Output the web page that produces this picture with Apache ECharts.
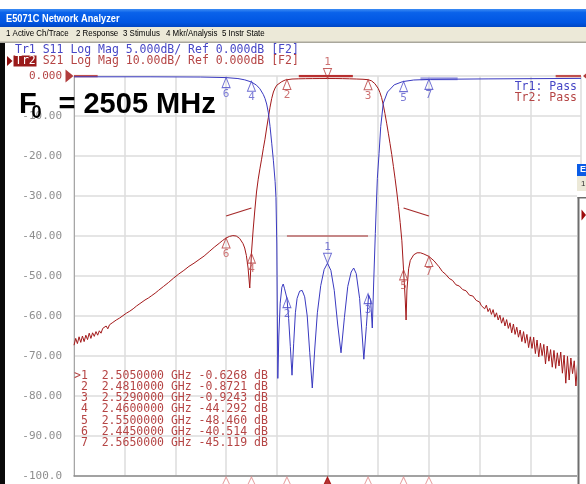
<!DOCTYPE html>
<html><head><meta charset="utf-8">
<script src="https://cdn.jsdelivr.net/npm/echarts@6/dist/echarts.min.js"></script>
<style>html,body{margin:0;padding:0;background:#fff;overflow:hidden}#c{width:586px;height:484px}</style>
</head><body><div id="c"></div>
<script>
// ---------- data ----------
const CENTER_MHZ = 2505;
const HALF_SPAN_MHZ = 150;
const DIV_MHZ = 30;
const TR2_SCALE = { min: -100, max: 0, step: 10 };   // S21 10 dB/div
const TR1_SCALE = { min: -50, max: 0, step: 5 };     // S11 5 dB/div

// S21 trace [MHz, dB]
const S21_POINTS = [
 [2355,-67.3],[2356,-65.6],[2357,-66.9],[2358,-65.2],[2359,-66.6],[2360,-65.0],[2361,-66.4],[2362,-64.8],
 [2363,-65.9],[2364,-64.3],[2365,-65.6],[2366,-64.2],[2367,-65.1],[2368,-63.9],[2369,-64.8],[2370,-63.7],
 [2371,-64.3],[2372,-63.1],[2373,-63.6],[2374,-62.5],[2375,-63.2],[2376,-62.2],[2377,-62.5],[2378,-61.6],
 [2379,-61.9],[2380,-61.0],[2381,-61.3],[2382,-60.5],[2383,-60.6],[2384,-59.9],[2385,-60.0],[2386,-59.3],
 [2387,-59.4],[2388,-58.8],[2389,-58.8],[2390,-58.2],[2391,-58.1],[2392,-57.5],[2393,-57.4],[2394,-56.9],
 [2395,-56.8],[2397,-56.0],[2399,-55.5],[2401,-54.9],[2403,-54.3],[2405,-53.6],[2408,-52.6],[2411,-51.6],
 [2414,-50.5],[2417,-49.5],[2420,-48.6],[2423,-47.6],[2426,-46.8],[2429,-45.9],[2432,-45.0],[2435,-43.9],
 [2438,-42.8],[2441,-41.8],[2443,-41.1],[2445,-40.5],[2447,-40.1],[2449,-39.9],[2451,-40.0],[2453,-40.6],
 [2455,-41.9],[2456,-43.0],[2457,-44.9],[2458,-48.0],[2459,-53.0],[2459.5,-49.0],[2460,-44.3],[2461,-38.5],
 [2462,-33.5],[2463,-29.0],[2464,-25.8],[2465,-23.2],[2466,-20.8],[2467,-18.2],[2468,-15.8],[2469,-13.0],
 [2470,-10.4],[2471,-7.8],[2472,-5.6],[2473,-4.0],[2474,-3.0],[2475,-2.3],[2476,-1.9],[2478,-1.4],
 [2480,-1.0],[2481,-0.87],[2484,-0.76],[2488,-0.70],[2492,-0.67],[2496,-0.65],[2500,-0.64],[2505,-0.63],
 [2510,-0.64],[2514,-0.66],[2518,-0.70],[2522,-0.75],[2526,-0.82],[2529,-0.92],[2531,-1.2],[2532,-1.5],
 [2533,-1.9],[2534,-2.4],[2535,-3.1],[2536,-4.1],[2537,-5.4],[2538,-7.2],[2539,-9.4],[2540,-11.8],
 [2541,-14.3],[2542,-16.9],[2543,-19.6],[2544,-22.6],[2545,-25.7],[2546,-29.0],[2547,-32.6],[2548,-36.6],
 [2549,-41.2],[2550,-48.5],[2551,-56.0],[2551.5,-61.0],[2552,-53.5],[2553,-48.2],[2554,-46.1],[2556,-44.7],
 [2558,-44.2],[2560,-44.2],[2562,-44.5],[2565,-45.1],[2568,-46.2],[2571,-47.7],[2573,-48.9],[2575,-49.6],
 [2577,-50.6],[2579,-51.1],[2581,-52.2],[2583,-52.5],[2585,-53.4],[2587,-53.7],[2589,-54.8],[2591,-55.0],
 [2593,-56.1],[2595,-56.5],[2596,-57.4],[2597,-56.9],[2598,-58.2],[2599,-57.3],[2600,-58.9],[2601,-58.1],
 [2602,-59.6],[2603,-58.4],[2604,-60.3],[2605,-59.2],[2606,-61.0],[2607,-59.8],[2608,-61.8],[2609,-60.4],
 [2610,-62.5],[2611,-60.9],[2612,-63.1],[2613,-61.7],[2614,-64.2],[2615,-62.0],[2616,-64.6],[2617,-62.8],
 [2618,-65.3],[2619,-63.5],[2620,-66.4],[2621,-63.9],[2622,-66.8],[2623,-64.6],[2624,-67.9],[2625,-65.2],
 [2626,-68.1],[2627,-65.3],[2628,-69.4],[2629,-66.0],[2630,-70.2],[2631,-66.8],[2632,-69.9],[2633,-67.1],
 [2634,-72.0],[2635,-67.5],[2636,-71.3],[2637,-68.4],[2638,-72.8],[2639,-68.6],[2640,-73.1],[2641,-69.2],
 [2642,-72.5],[2643,-69.0],[2644,-74.3],[2645,-69.8],[2646,-76.8],[2647,-70.1],[2648,-76.0],[2649,-70.5],
 [2650,-74.4],[2651,-71.2],[2652,-77.5],[2653,-71.6],[2654,-73.8],[2655,-80.0]
];

// S11 trace [MHz, dB]
const S11_POINTS = [
 [2355,-0.10],[2400,-0.10],[2430,-0.13],[2445,-0.20],[2452,-0.32],[2456,-0.48],[2460,-0.75],[2463,-1.15],
 [2465,-1.6],[2467,-2.3],[2468,-2.8],[2469,-3.5],[2470,-4.6],[2471,-6.3],[2472,-8.4],[2473,-10.6],
 [2474,-13.2],[2474.5,-15.2],[2475,-21.0],[2475.6,-37.8],[2476.2,-32.5],[2477,-28.4],[2478,-26.4],[2478.8,-26.0],
 [2479.6,-26.6],[2481,-27.8],[2482,-30.3],[2483,-33.8],[2484,-37.4],[2485,-33.4],[2486,-29.6],[2487,-27.8],
 [2488.5,-26.9],[2490,-26.8],[2491.5,-27.6],[2493,-30.0],[2494.5,-34.6],[2496,-39.0],[2497.5,-34.0],[2499,-29.6],
 [2501,-26.2],[2503,-24.2],[2505,-23.4],[2507,-24.3],[2509,-26.8],[2511,-31.0],[2513,-34.6],[2515,-30.2],
 [2517,-26.3],[2519,-24.5],[2520.5,-24.0],[2522,-24.7],[2524,-27.8],[2526.5,-35.4],[2528,-31.3],[2529.3,-27.4],
 [2530.5,-28.0],[2531.5,-31.5],[2532.3,-26.0],[2533.3,-19.7],[2534,-15.5],[2534.5,-12.8],[2535.5,-9.7],[2536.5,-6.3],
 [2538,-3.4],[2540.5,-2.0],[2544.5,-1.1],[2549.5,-0.7],[2556,-0.5],[2566,-0.42],[2600,-0.36],[2655,-0.30]
];

// markers
const ACTIVE_MARKER = 1;
const MARKER_NUM = [1, 2, 3, 4, 5, 6, 7];
const MARKER_GHZ = [2.505, 2.481, 2.529, 2.460, 2.550, 2.445, 2.565];
const MARKER_S21_DB = [-0.6268, -0.8721, -0.9243, -44.292, -48.460, -40.514, -45.119];
const MARKER_S11_DB = [-23.4, -27.7, -27.2, -0.65, -0.7, -0.2, -0.42];

// limit lines
const LIMIT_S21_LEFT = [[2445, -35], [2460, -33]];
const LIMIT_S21_RIGHT = [[2550, -33], [2565, -35]];
const LIMIT_S11_PASS = [[2481, -20], [2529, -20]];
const LIMIT_S21_TOP_A = [[2355, 0], [2369, 0]];
const LIMIT_S21_TOP_B = [[2488, 0], [2520, 0]];
const LIMIT_S21_TOP_C = [[2640, 0], [2655, 0]];
const LIMIT_S11_TOP = [[2560, -0.35], [2582, -0.35]];

// texts
const TITLE = 'E5071C Network Analyzer';
const MENU = [['1 Active Ch/Trace', 6], ['2 Response', 76], ['3 Stimulus', 123], ['4 Mkr/Analysis', 166], ['5 Instr State', 222]];
const TR1_HEADER = 'Tr1 S11 Log Mag 5.000dB/ Ref 0.000dB [F2]';
const TR2_HEADER = ' S21 Log Mag 10.00dB/ Ref 0.000dB [F2]';

// ---------- chart ----------
const MONO = '"DejaVu Sans Mono", monospace';
const SANS = '"Liberation Sans", Arial, sans-serif';
const RED = '#A3191A', BLUE = '#3A3AC0', RED_TXT = '#B54545', BLUE_TXT = '#4747C6';
const CW = 6.92; // mono char width at 11.5px

const X = f => f - CENTER_MHZ;
const toXY = pts => pts.map(p => [X(p[0]), p[1]]);

function lineSeries(yIdx, pts, color, width, z) {
  return { type: 'line', yAxisIndex: yIdx, data: toXY(pts), symbol: 'none', showSymbol: false,
    lineStyle: { color, width }, z: z || 2, silent: true, animation: false };
}
const TRI_UP = 'path://M5,0 L10,12 L0,12 Z';
const TRI_DOWN = 'path://M0,0 L10,0 L5,12 Z';
function markerSeries(yIdx, vals, color, lblColor, active) {
  const data = [];
  MARKER_NUM.forEach((n, i) => {
    if ((n === ACTIVE_MARKER) === active) data.push({ name: String(n), value: [X(MARKER_GHZ[i] * 1000), vals[i]] });
  });
  return { type: 'scatter', yAxisIndex: yIdx, data, symbol: active ? TRI_DOWN : TRI_UP,
    symbolSize: [8, 10], symbolOffset: [0, active ? -5 : 5], clip: false,
    itemStyle: { color: 'rgba(255,255,255,0)', borderColor: color, borderWidth: 1 },
    label: { show: true, formatter: '{b}', position: active ? 'top' : 'bottom', distance: 0,
      color: lblColor, fontFamily: MONO, fontSize: 11 },
    z: 6, silent: true, animation: false };
}
function bottomMarkers() {
  return { type: 'scatter', yAxisIndex: 0, clip: false, symbol: 'triangle', symbolSize: [15, 16], symbolOffset: [0, 9],
    data: MARKER_NUM.map((n, i) => ({ value: [X(MARKER_GHZ[i] * 1000), TR2_SCALE.min],
      itemStyle: n === ACTIVE_MARKER ? { color: '#A00000', borderColor: '#A00000', borderWidth: 1 }
                                     : { color: 'rgba(255,255,255,0)', borderColor: '#E08A8A', borderWidth: 1 } })),
    z: 6, silent: true, animation: false };
}
function refMarker(xMHz, sym, off) {
  return { type: 'scatter', yAxisIndex: 0, clip: false, symbol: sym, symbolSize: [8, 13], symbolOffset: [off, 0],
    data: [[X(xMHz), 0]], itemStyle: { color: '#9E0B0B' }, z: 7, silent: true, animation: false };
}

const fmtVal = v => (Math.abs(v) < 10 ? v.toFixed(4) : v.toFixed(3)).padStart(7, ' ');
const tableRows = MARKER_NUM.map((n, i) => ({
  type: 'text', x: 74, y: 376 + i * 11.15,
  style: { text: (n === ACTIVE_MARKER ? '>' : ' ') + n + '  ' + MARKER_GHZ[i].toFixed(7) + ' GHz ' + fmtVal(MARKER_S21_DB[i]) + ' dB',
    fill: RED_TXT, font: '11.5px ' + MONO, verticalAlign: 'middle' }, z: 20 }));

const graphic = [
  { type: 'rect', shape: { x: 0, y: 9, width: 586, height: 18 }, style: { fill: { type: 'linear', x: 0, y: 0, x2: 0, y2: 1,
      colorStops: [{ offset: 0, color: '#3C8CF4' }, { offset: 0.2, color: '#0A62EA' }, { offset: 0.75, color: '#0055E2' }, { offset: 1, color: '#0046C4' }] } }, z: 10 },
  { type: 'text', x: 6, y: 18.5, scaleX: 0.84, style: { text: TITLE, fill: '#fff', font: 'bold 11px ' + SANS, verticalAlign: 'middle' }, z: 11 },
  { type: 'rect', shape: { x: 0, y: 27, width: 586, height: 15 }, style: { fill: '#ECE9D8' }, z: 10 },
  { type: 'rect', shape: { x: 0, y: 41.5, width: 586, height: 1.5 }, style: { fill: '#A9A79C' }, z: 10 },
  ...MENU.map(m => ({ type: 'text', x: m[1], y: 34, scaleX: 0.88, style: { text: m[0], fill: '#000', font: '9px ' + SANS, verticalAlign: 'middle' }, z: 11 })),
  { type: 'rect', shape: { x: 0, y: 43, width: 5, height: 441 }, style: { fill: '#0A0A0A' }, z: 10 },
  // trace headers
  { type: 'text', x: 15, y: 50, style: { text: TR1_HEADER, fill: BLUE_TXT, font: '11.5px ' + MONO, verticalAlign: 'middle' }, z: 20 },
  { type: 'polygon', shape: { points: [[7, 56], [12.5, 61], [7, 66]] }, style: { fill: '#8E0E0E' }, z: 20 },
  { type: 'rect', shape: { x: 13.5, y: 55.5, width: 23, height: 11 }, style: { fill: '#9A1A1A' }, z: 19 },
  { type: 'text', x: 15, y: 61, style: { text: 'Tr2', fill: '#fff', font: '11.5px ' + MONO, verticalAlign: 'middle' }, z: 20 },
  { type: 'text', x: 15 + 3 * CW, y: 61, style: { text: TR2_HEADER, fill: RED_TXT, font: '11.5px ' + MONO, verticalAlign: 'middle' }, z: 20 },
  // pass labels
  { type: 'text', x: 577, y: 87, style: { text: 'Tr1: Pass', fill: BLUE_TXT, font: '11.5px ' + MONO, align: 'right', verticalAlign: 'middle' }, z: 20 },
  { type: 'text', x: 577, y: 98, style: { text: 'Tr2: Pass', fill: RED_TXT, font: '11.5px ' + MONO, align: 'right', verticalAlign: 'middle' }, z: 20 },
  // F0 annotation
  { type: 'text', x: 19, y: 105, style: { text: 'F', fill: '#000', font: 'bold 29px ' + SANS, verticalAlign: 'middle' }, z: 21 },
  { type: 'text', x: 31.5, y: 113, style: { text: '0', fill: '#000', font: 'bold 18px ' + SANS, verticalAlign: 'middle' }, z: 21 },
  { type: 'text', x: 58.5, y: 105, style: { text: '= 2505 MHz', fill: '#000', font: 'bold 29px ' + SANS, verticalAlign: 'middle' }, z: 21 },
  ...tableRows,
  // neighbouring window fragment on the right
  { type: 'rect', shape: { x: 577, y: 164, width: 9, height: 12 }, style: { fill: '#0A5CE6' }, z: 22 },
  { type: 'text', x: 580, y: 170, style: { text: 'E', fill: '#fff', font: 'bold 9px ' + SANS, verticalAlign: 'middle' }, z: 23 },
  { type: 'rect', shape: { x: 577, y: 176, width: 9, height: 15 }, style: { fill: '#ECE9D8' }, z: 22 },
  { type: 'text', x: 581, y: 184, style: { text: '1', fill: '#333', font: '8px ' + SANS, verticalAlign: 'middle' }, z: 23 },
  { type: 'rect', shape: { x: 577, y: 191, width: 9, height: 293 }, style: { fill: '#fff' }, z: 22 },
  { type: 'rect', shape: { x: 577.5, y: 197, width: 2, height: 287 }, style: { fill: '#6E6E6E' }, z: 23 },
  { type: 'rect', shape: { x: 577.5, y: 197, width: 9, height: 1.5 }, style: { fill: '#6E6E6E' }, z: 23 },
  { type: 'polygon', shape: { points: [[581.5, 209.5], [586, 215], [581.5, 220.5]] }, style: { fill: '#9E0B0B' }, z: 23 }
];

const option = {
  backgroundColor: '#ffffff',
  animation: false,
  grid: { left: 74, top: 76, width: 507, height: 400, containLabel: false },
  xAxis: {
    type: 'value', min: -HALF_SPAN_MHZ, max: HALF_SPAN_MHZ, interval: DIV_MHZ,
    axisLabel: { show: false }, axisTick: { show: false },
    axisLine: { show: true, onZero: false, lineStyle: { color: '#8C8C8C', width: 1.5 } },
    splitLine: { show: true, lineStyle: { color: '#DCDCDC', width: 1.5 } }
  },
  yAxis: [
    { type: 'value', min: TR2_SCALE.min, max: TR2_SCALE.max, interval: TR2_SCALE.step, position: 'left',
      axisLine: { show: true, onZero: false, lineStyle: { color: '#A6A6A6', width: 1 } }, axisTick: { show: false },
      axisLabel: { margin: 12, fontFamily: MONO, fontSize: 11,
        color: v => (Number(v) === 0 ? RED_TXT : '#8E8E8E'),
        formatter: v => (v === 0 ? '0.000' : v === -100 ? '-100.0' : v.toFixed(2)) },
      splitLine: { show: true, lineStyle: { color: '#DCDCDC', width: 1.5 } } },
    { type: 'value', min: TR1_SCALE.min, max: TR1_SCALE.max, interval: TR1_SCALE.step, show: false,
      axisLine: { show: false, onZero: false }, splitLine: { show: false } }
  ],
  series: [
    lineSeries(0, LIMIT_S21_LEFT, '#A52A2A', 1.2, 3),
    lineSeries(0, LIMIT_S21_RIGHT, '#A52A2A', 1.2, 3),
    lineSeries(1, LIMIT_S11_PASS, '#A52A2A', 1.2, 3),
    lineSeries(0, LIMIT_S21_TOP_A, '#C0504D', 2.5, 3),
    lineSeries(0, LIMIT_S21_TOP_B, '#B83030', 2.5, 3),
    lineSeries(0, LIMIT_S21_TOP_C, '#C0504D', 2.5, 3),
    lineSeries(1, LIMIT_S11_TOP, '#A4A4E4', 3, 3),
    lineSeries(0, S21_POINTS, RED, 1, 4),
    lineSeries(1, S11_POINTS, BLUE, 1, 4),
    markerSeries(1, MARKER_S11_DB, '#4A4AC8', '#5A5ACC', true),
    markerSeries(1, MARKER_S11_DB, '#4A4AC8', '#5A5ACC', false),
    markerSeries(0, MARKER_S21_DB, '#B53A3A', '#C05050', true),
    markerSeries(0, MARKER_S21_DB, '#B53A3A', '#C05050', false),
    bottomMarkers(),
    refMarker(CENTER_MHZ - HALF_SPAN_MHZ, 'path://M0,0 L8,6.5 L0,13 Z', -4.5),
    refMarker(CENTER_MHZ + HALF_SPAN_MHZ, 'path://M8,0 L0,6.5 L8,13 Z', 6)
  ],
  graphic
};
const chart = echarts.init(document.getElementById('c'), null, { renderer: 'canvas' });
chart.setOption(option);
</script>
</body></html>
